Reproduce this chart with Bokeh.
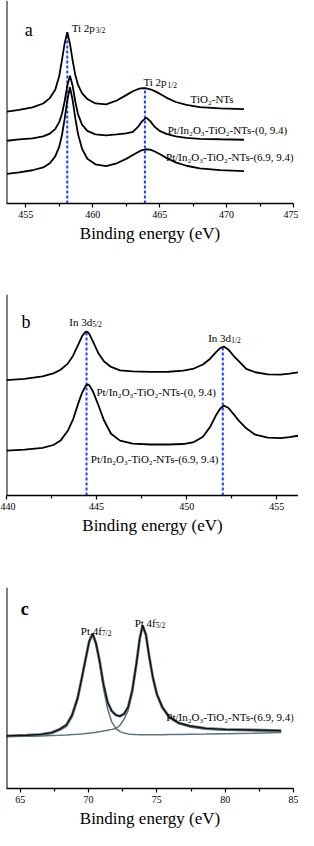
from bokeh.plotting import figure
from bokeh.layouts import column
from bokeh.models import Range1d, FixedTicker, Label, Span
from bokeh.embed import file_html
from bokeh.resources import INLINE

FONT = "Liberation Serif"
BLUE = "#1f3dff"
AXIS_TITLE = "Binding energy (eV)"

# ---------------- panel a : Ti 2p ----------------
a_energy = [453.6, 454.5, 455.5, 456.3, 456.8, 457.2, 457.5, 457.7, 457.9, 458.1,
            458.3, 458.5, 458.7, 458.9, 459.2, 459.6, 460.2, 461.0, 461.8, 462.5,
            463.0, 463.4, 463.7, 464.0, 464.3, 464.6, 465.0, 465.5, 466.2, 467.0,
            468.0, 469.5, 471.3]
a_tio2 = [93.7, 95.5, 98, 102, 107.5, 116, 130, 146, 163, 174.7,
          163, 146, 131, 121, 112.5, 106.5, 102, 101, 105, 110.5,
          114.5, 116.8, 117.6, 117.5, 116.5, 114.8, 112, 108, 103.5, 100.5,
          98.3, 97, 96.3]
a_pt0 = [64, 65.3, 66.5, 68.5, 71.3, 76, 83, 91.2, 104, 120,
         130.3, 120, 104, 91.2, 80.5, 74, 70.5, 69.5, 70.5, 71.5,
         73, 78.5, 84, 87.5, 84, 78.5, 74, 71, 68.5, 67,
         66, 65.5, 65]
a_pt69 = [30.3, 31.8, 33.9, 36.8, 41, 48, 58, 69.5, 86, 105,
          118.7, 105.5, 87, 71, 56, 45.6, 40, 38, 41, 45.5,
          49.5, 52.5, 54.5, 55.3, 55, 53.3, 50.5, 46.5, 42, 38.5,
          35.8, 34, 33]
a_peak_E = [458.1, 463.9]
a_peak_top = [174.7, 117.6]
a_ticks = [455, 460, 465, 470, 475]
a_minor = [457.5, 462.5, 467.5, 472.5]
a_xrange = (453.56, 475.0)
a_yrange = (0, 207)

# ---------------- panel b : In 3d ----------------
b_energy = [440.0, 441.0, 442.0, 442.6, 443.0, 443.4, 443.7, 444.0, 444.2, 444.4,
            444.5, 444.6, 444.8, 445.1, 445.4, 445.8, 446.3, 447.0, 448.0, 449.0,
            449.8, 450.4, 450.9, 451.3, 451.6, 451.85, 452.05, 452.3, 452.6, 452.9,
            453.3, 453.8, 454.5, 455.2, 455.7, 456.2]
b_pt0 = [117.7, 119, 121.6, 124.6, 128.2, 134.5, 142.8, 154.6, 162.8, 167.2,
         166.6, 164.6, 157, 145, 137, 131.1, 127.7, 126.5, 126, 126.2,
         127.3, 129.5, 133.6, 139.5, 145.7, 150.2, 152, 149, 142.5, 136.8,
         129.2, 125.7, 123.5, 123.3, 124.3, 125.7]
b_pt69 = [45.7, 46.8, 48.5, 51.5, 56, 66, 78, 95, 105, 112,
          113.3, 112.3, 106, 92, 77, 63, 56, 53, 52, 52,
          52.5, 54.5, 60, 70, 81, 88.5, 91.7, 89.5, 83, 76,
          68.5, 62, 59, 58.5, 59.5, 61]
b_peak_E = [444.44, 452.0]
b_peak_top = [167.3, 152.3]
b_ticks = [440, 445, 450, 455]
b_minor = [442.5, 447.5, 452.5]
b_xrange = (440.0, 456.2)
b_yrange = (0, 205)

# ---------------- panel c : Pt 4f ----------------
c_energy = [64.0, 65.5, 66.5, 67.3, 67.9, 68.4, 68.8, 69.2, 69.5, 69.8,
            70.05, 70.3, 70.55, 70.8, 71.1, 71.4, 71.7, 72.0, 72.3, 72.6,
            72.9, 73.2, 73.5, 73.75, 73.96, 74.2, 74.45, 74.7, 75.0, 75.4,
            75.9, 76.6, 77.5, 78.6, 80.0, 82.0, 84.1]
c_envelope = [53.7, 54.3, 55.2, 57, 60.5, 65, 75, 92, 112, 133,
              150, 158, 148, 131, 106, 88, 79, 75, 73.7, 76,
              83, 100, 127, 153, 166.3, 157, 134, 114, 96.3, 83,
              73, 67, 63.5, 61.3, 60.3, 59.7, 59]
c_comp1 = [53, 53.5, 54.3, 56, 59.3, 63.5, 73, 90, 110, 131.5,
           149, 157, 146.5, 129, 102, 81, 68, 61.3, 58, 56.5,
           55.7, 55.2, 55, 54.9, 54.8, 54.8, 54.8, 54.8, 54.8, 54.9,
           55, 55.1, 55.3, 55.5, 55.8, 56.3, 57]
c_comp2 = [53, 53.3, 53.6, 54, 54.3, 54.6, 55, 55.3, 55.6, 56,
           56.4, 56.8, 57.3, 57.9, 58.7, 59.5, 60.3, 61.3, 64.5, 70.5,
           79.5, 97, 125, 152, 165.5, 156, 133, 113, 95.5, 82,
           72, 66, 62.5, 60.5, 59.5, 59, 58.5]
c_ticks = [65, 70, 75, 80, 85]
c_minor = [67.5, 72.5, 77.5, 82.5]
c_xrange = (64.0, 85.0)
c_yrange = (0, 205)

# ---------------- text labels ----------------
LBL_TIO2 = "TiO\u2082-NTs"
LBL_PT0 = "Pt/In\u2082O\u2083-TiO\u2082-NTs-(0, 9.4)"
LBL_PT69 = "Pt/In\u2082O\u2083-TiO\u2082-NTs-(6.9, 9.4)"


def make_fig(xr, yr, fw, fh, left, right, top, bottom, ticks, minor):
    p = figure(frame_width=fw, frame_height=fh,
               x_range=Range1d(*xr), y_range=Range1d(*yr),
               output_backend="svg", toolbar_location=None,
               min_border_left=left, min_border_right=right,
               min_border_top=top, min_border_bottom=bottom)
    p.yaxis.visible = False
    p.grid.visible = False
    p.outline_line_color = None
    p.background_fill_color = "white"
    p.border_fill_color = "white"
    ax = p.xaxis[0]
    ax.ticker = FixedTicker(ticks=ticks, minor_ticks=minor)
    ax.axis_line_width = 1.5
    ax.axis_line_color = "black"
    ax.major_tick_line_width = 1.2
    ax.minor_tick_line_width = 1.2
    ax.major_tick_in = 0
    ax.major_tick_out = 4
    ax.minor_tick_in = 0
    ax.minor_tick_out = 3
    ax.major_label_text_font = FONT
    ax.major_label_text_font_size = "10px"
    ax.major_label_text_color = "black"
    ax.major_label_standoff = 3
    ax.axis_label = AXIS_TITLE
    ax.axis_label_text_font = FONT
    ax.axis_label_text_font_size = "17px"
    ax.axis_label_text_font_style = "normal"
    ax.axis_label_text_color = "black"
    ax.axis_label_standoff = 3
    p.add_layout(Span(location=xr[0], dimension="height",
                      line_color="black", line_width=2))
    return p


def add_text(p, x, y, text, size="11px", style="normal", dx=0, dy=0):
    p.add_layout(Label(x=x, y=y, text=text, x_offset=dx, y_offset=dy,
                       text_font=FONT, text_font_size=size,
                       text_font_style=style, text_color="black",
                       text_align="left", text_baseline="alphabetic"))


def add_orbital(p, x, y, main, sub, width):
    add_text(p, x, y, main, size="11px")
    add_text(p, x, y, sub, size="7.5px", dx=width, dy=-3)


# ---- panel a ----
pa = make_fig(a_xrange, a_yrange, 287, 203, 0, 11, 0, 45, a_ticks, a_minor)
pa.segment(x0=a_peak_E, y0=[0, 0], x1=a_peak_E, y1=a_peak_top,
           line_color=BLUE, line_width=2, line_dash="3 2")
for ys in (a_tio2, a_pt0, a_pt69):
    pa.line(a_energy, ys, line_color="black", line_width=1.8)
add_text(pa, 454.93, 177, "a", size="18px")
add_orbital(pa, 458.43, 179, "Ti 2p", "3/2", 24)
add_orbital(pa, 463.79, 123.7, "Ti 2p", "1/2", 24)
add_text(pa, 467.31, 107, LBL_TIO2)
add_text(pa, 465.6, 75.3, LBL_PT0)
add_text(pa, 465.48, 47.7, LBL_PT69)

# ---- panel b ----
pb = make_fig(b_xrange, b_yrange, 292, 201, 6, 0, 46, 45, b_ticks, b_minor)
pb.segment(x0=b_peak_E, y0=[0, 0], x1=b_peak_E, y1=b_peak_top,
           line_color=BLUE, line_width=2, line_dash="3 2")
for ys in (b_pt0, b_pt69):
    pb.line(b_energy, ys, line_color="black", line_width=1.8)
add_text(pb, 440.83, 177.3, "b", size="18px")
add_orbital(pb, 443.48, 177.3, "In 3d", "5/2", 23)
add_orbital(pb, 451.19, 160.7, "In 3d", "1/2", 23)
add_text(pb, 444.99, 105.7, LBL_PT0)
add_text(pb, 444.68, 37.7, LBL_PT69)

# ---- panel c ----
pc = make_fig(c_xrange, c_yrange, 287, 201, 0, 11, 47, 42, c_ticks, c_minor)
pc.line(c_energy, c_envelope, line_color="#6f8088", line_width=2.8)
pc.line(c_energy, c_comp1, line_color="#5f737b", line_width=1.5)
pc.line(c_energy, c_comp2, line_color="#5f737b", line_width=1.5)
pc.line(c_energy, c_envelope, line_color="#111111", line_width=1.4)
add_text(pc, 65.04, 183, "c", size="18px", style="bold")
add_orbital(pc, 69.44, 160.7, "Pt 4f", "7/2", 21)
add_orbital(pc, 73.38, 169, "Pt 4f", "5/2", 21)
add_text(pc, 75.69, 73, LBL_PT69)

layout = column(pa, pb, pc, spacing=0)
open("out.html", "w").write(file_html(layout, INLINE))
